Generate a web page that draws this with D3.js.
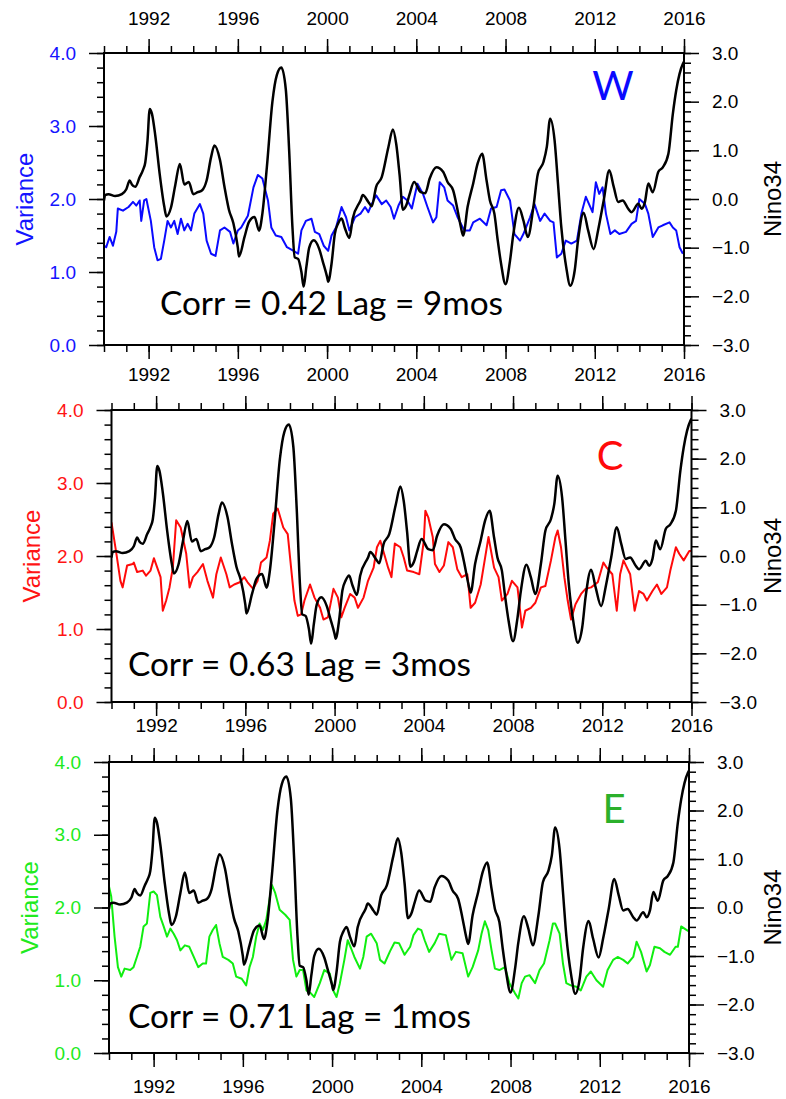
<!DOCTYPE html>
<html>
<head>
<meta charset="utf-8">
<script src="https://cdn.jsdelivr.net/npm/d3@7"></script>
<style>
  body { margin: 0; background: #fff; }
  svg { display: block; }
  .tick text { font-family: "Liberation Sans", Arial, Helvetica, sans-serif; font-size: 19px; }
  .tick line { stroke: #000; stroke-width: 1.5; }
</style>
</head>
<body>
<svg id="chart"></svg>
<script>
// Data: [decimal year, value]
const years = [1990, 2016];
const yearTicks = [1992, 1996, 2000, 2004, 2008, 2012, 2016];
const varianceTicks = [0, 1, 2, 3, 4];
const ninoTicks = [-3, -2, -1, 0, 1, 2, 3];

// Nino34 index (same black curve in all three panels)
const nino34 = [
  [1990.0,-0.03],[1990.05,0.08],[1990.2,0.1],[1990.5,0.06],[1990.8,0.1],[1991.0,0.2],[1991.15,0.38],
  [1991.25,0.3],[1991.4,0.25],[1991.6,0.45],[1991.75,0.6],[1991.85,0.75],[1991.95,1.2],[1992.05,1.85],
  [1992.15,1.75],[1992.3,1.3],[1992.5,0.5],[1992.7,-0.15],[1992.8,-0.36],[1993.0,-0.18],[1993.2,0.3],
  [1993.4,0.72],[1993.6,0.3],[1993.8,0.35],[1994.0,0.1],[1994.2,0.14],[1994.4,0.18],[1994.6,0.38],
  [1994.8,0.86],[1994.95,1.1],[1995.2,0.8],[1995.4,0.25],[1995.6,-0.22],[1995.8,-0.5],[1996.0,-1.0],
  [1996.05,-1.18],[1996.3,-0.78],[1996.5,-0.47],[1996.75,-0.37],[1996.95,-0.65],[1997.1,-0.3],
  [1997.3,0.65],[1997.55,2.0],[1997.75,2.55],[1997.95,2.7],[1998.15,2.25],[1998.3,1.0],[1998.45,-0.6],
  [1998.55,-1.2],[1998.7,-1.23],[1998.85,-1.5],[1998.95,-1.8],[1999.07,-1.4],[1999.2,-1.0],[1999.4,-0.85],
  [1999.65,-1.03],[1999.8,-1.27],[2000.0,-1.6],[2000.05,-1.7],[2000.2,-1.33],[2000.35,-0.71],[2000.5,-0.5],
  [2000.65,-0.4],[2000.8,-0.6],[2001.0,-0.8],[2001.15,-0.4],[2001.5,-0.03],[2001.6,0.08],[2001.85,-0.06],
  [2002.0,-0.15],[2002.2,0.25],[2002.45,0.45],[2002.75,1.07],[2002.95,1.43],[2003.1,1.13],[2003.25,0.5],
  [2003.4,-0.22],[2003.55,-0.13],[2003.7,0.1],[2003.9,0.35],[2004.2,0.14],[2004.4,0.12],[2004.6,0.42],
  [2004.9,0.65],[2005.2,0.56],[2005.4,0.35],[2005.65,0.18],[2005.85,-0.23],[2006.0,-0.58],[2006.1,-0.75],
  [2006.3,-0.16],[2006.55,0.32],[2006.75,0.73],[2006.95,0.93],[2007.15,0.38],[2007.3,-0.03],[2007.5,-0.3],
  [2007.65,-0.85],[2007.8,-1.33],[2008.0,-1.75],[2008.2,-1.27],[2008.35,-0.72],[2008.6,-0.18],[2008.8,-0.44],
  [2009.0,-0.78],[2009.25,-0.16],[2009.45,0.52],[2009.7,0.76],[2009.85,1.07],[2010.0,1.65],[2010.2,1.2],
  [2010.35,0.32],[2010.5,-0.58],[2010.72,-1.4],[2010.9,-1.78],[2011.1,-1.47],[2011.25,-0.85],[2011.5,-0.28],
  [2011.7,-0.64],[2011.95,-1.03],[2012.15,-0.64],[2012.4,-0.03],[2012.65,0.59],[2012.85,0.25],[2013.05,-0.06],
  [2013.25,-0.03],[2013.5,-0.2],[2013.65,-0.27],[2013.95,-0.1],[2014.1,-0.2],[2014.25,-0.06],[2014.4,0.32],
  [2014.6,0.14],[2014.85,0.56],[2015.05,0.65],[2015.3,0.93],[2015.5,1.75],[2015.65,2.23],[2015.8,2.57],
  [2015.95,2.78],[2016.0,2.82]
];

// Variance, western region
const varianceW = [
  [1990.0,1.36],[1990.1,1.34],[1990.25,1.48],[1990.4,1.36],[1990.55,1.55],[1990.62,1.87],[1990.85,1.84],
  [1991.1,1.89],[1991.3,1.96],[1991.45,1.91],[1991.6,1.98],[1991.67,1.7],[1991.8,1.98],[1991.9,2.0],
  [1992.1,1.7],[1992.25,1.34],[1992.4,1.16],[1992.55,1.18],[1992.7,1.43],[1992.85,1.7],[1993.0,1.61],
  [1993.15,1.7],[1993.3,1.52],[1993.45,1.73],[1993.6,1.57],[1993.75,1.66],[1993.9,1.57],[1994.05,1.8],
  [1994.3,1.93],[1994.45,1.8],[1994.6,1.43],[1994.8,1.25],[1995.0,1.22],[1995.2,1.57],[1995.4,1.61],
  [1995.65,1.55],[1995.8,1.39],[1996.0,1.57],[1996.15,1.61],[1996.45,1.77],[1996.7,2.16],[1996.9,2.33],
  [1997.1,2.28],[1997.35,1.98],[1997.5,1.61],[1997.7,1.5],[1997.95,1.48],[1998.2,1.34],[1998.5,1.29],
  [1998.7,1.25],[1998.85,1.57],[1999.05,1.7],[1999.3,1.73],[1999.45,1.55],[1999.65,1.52],[1999.85,1.36],
  [2000.05,1.29],[2000.2,1.5],[2000.4,1.61],[2000.65,1.89],[2000.85,1.75],[2001.0,1.57],[2001.25,1.75],
  [2001.5,1.8],[2001.7,1.89],[2001.85,1.82],[2002.0,1.93],[2002.2,2.05],[2002.45,1.93],[2002.65,1.98],
  [2002.85,1.89],[2003.0,1.73],[2003.2,1.91],[2003.4,2.03],[2003.6,1.98],[2003.8,1.87],[2004.05,2.21],
  [2004.3,2.07],[2004.5,1.89],[2004.75,1.68],[2004.9,1.75],[2005.05,2.23],[2005.25,2.16],[2005.4,1.98],
  [2005.65,1.91],[2005.85,1.75],[2006.15,1.57],[2006.4,1.57],[2006.55,1.68],[2006.85,1.73],[2007.15,1.64],
  [2007.35,1.87],[2007.6,1.89],[2007.8,2.12],[2007.95,2.13],[2008.2,1.98],[2008.4,1.52],[2008.65,1.43],
  [2008.8,1.52],[2009.1,1.75],[2009.3,1.93],[2009.55,1.7],[2009.75,1.8],[2010.0,1.7],[2010.15,1.68],
  [2010.3,1.2],[2010.5,1.25],[2010.7,1.43],[2010.95,1.39],[2011.2,1.43],[2011.4,1.8],[2011.6,2.03],
  [2011.9,1.82],[2012.05,2.23],[2012.2,2.07],[2012.35,2.16],[2012.5,1.8],[2012.7,1.52],[2012.9,1.57],
  [2013.1,1.52],[2013.4,1.55],[2013.65,1.66],[2013.85,1.7],[2014.0,2.0],[2014.25,1.93],[2014.4,1.8],
  [2014.6,1.48],[2014.85,1.61],[2015.05,1.64],[2015.35,1.68],[2015.5,1.61],[2015.65,1.57],[2015.8,1.34],
  [2015.95,1.25]
];

// Variance, central region
const varianceC = [
  [1990.0,2.46],[1990.2,2.07],[1990.4,1.66],[1990.5,1.57],[1990.7,1.87],[1990.95,1.89],[1991.0,1.91],
  [1991.15,1.78],[1991.4,1.8],[1991.55,1.73],[1991.75,1.8],[1991.9,1.97],[1992.05,1.84],[1992.2,1.71],
  [1992.3,1.25],[1992.45,1.39],[1992.6,1.57],[1992.75,1.84],[1992.9,2.49],[1993.1,2.39],[1993.35,2.03],
  [1993.5,1.57],[1993.65,1.71],[1993.85,1.78],[1994.1,1.89],[1994.3,1.66],[1994.55,1.43],[1994.7,1.75],
  [1994.9,1.98],[1995.15,1.75],[1995.3,1.57],[1995.5,1.61],[1995.75,1.64],[1995.95,1.71],[1996.1,1.64],
  [1996.35,1.55],[1996.55,1.66],[1996.7,1.91],[1996.95,1.98],[1997.1,2.21],[1997.25,2.58],[1997.45,2.65],
  [1997.7,2.39],[1997.9,2.3],[1998.05,1.84],[1998.2,1.39],[1998.35,1.18],[1998.5,1.2],[1998.65,1.39],
  [1998.9,1.61],[1999.1,1.43],[1999.35,1.29],[1999.5,1.13],[1999.7,1.16],[1999.95,1.55],[2000.15,1.43],
  [2000.3,1.16],[2000.45,1.29],[2000.7,1.48],[2000.9,1.43],[2001.05,1.29],[2001.3,1.43],[2001.5,1.66],
  [2001.75,1.84],[2001.9,2.12],[2002.05,2.21],[2002.25,2.0],[2002.4,1.84],[2002.55,1.71],[2002.7,2.17],
  [2002.95,2.12],[2003.1,1.98],[2003.25,1.8],[2003.55,1.78],[2003.8,1.75],[2004.0,2.21],[2004.07,2.62],
  [2004.2,2.53],[2004.4,2.26],[2004.5,1.89],[2004.7,1.78],[2004.9,1.87],[2005.1,2.19],[2005.3,2.12],
  [2005.5,1.82],[2005.7,1.71],[2005.95,1.75],[2006.1,1.29],[2006.3,1.36],[2006.55,1.61],[2006.75,1.98],
  [2006.9,2.26],[2007.15,1.84],[2007.35,1.71],[2007.5,1.39],[2007.75,1.48],[2007.95,1.66],[2008.2,1.57],
  [2008.4,1.02],[2008.55,1.25],[2008.8,1.29],[2009.0,1.36],[2009.25,1.57],[2009.45,1.59],[2009.7,1.94],
  [2009.9,2.26],[2010.0,2.35],[2010.15,2.12],[2010.3,1.71],[2010.45,1.39],[2010.6,1.13],[2010.8,1.34],
  [2011.05,1.48],[2011.25,1.55],[2011.5,1.57],[2011.8,1.64],[2012.05,1.91],[2012.2,1.84],[2012.45,1.75],
  [2012.65,1.25],[2012.8,1.75],[2012.95,1.94],[2013.25,1.75],[2013.45,1.25],[2013.65,1.52],[2013.85,1.48],
  [2014.0,1.39],[2014.25,1.52],[2014.45,1.61],[2014.65,1.48],[2014.9,1.57],[2015.05,1.8],[2015.3,2.12],
  [2015.45,2.03],[2015.65,1.94],[2015.9,2.07],[2016.0,2.07]
];

// Variance, eastern region
const varianceE = [
  [1990.0,2.29],[1990.1,2.15],[1990.25,1.6],[1990.4,1.18],[1990.55,1.05],[1990.7,1.16],[1990.95,1.14],
  [1991.1,1.18],[1991.25,1.32],[1991.4,1.46],[1991.55,1.74],[1991.7,1.78],[1991.85,2.2],[1992.0,2.22],
  [1992.15,2.17],[1992.3,1.87],[1992.45,1.74],[1992.6,1.6],[1992.75,1.71],[1992.9,1.64],[1993.05,1.55],
  [1993.2,1.41],[1993.4,1.48],[1993.6,1.46],[1993.8,1.32],[1994.0,1.18],[1994.2,1.23],[1994.35,1.23],
  [1994.5,1.6],[1994.65,1.69],[1994.8,1.76],[1994.95,1.51],[1995.1,1.32],[1995.35,1.28],[1995.55,1.23],
  [1995.7,1.05],[1995.95,1.02],[1996.15,0.93],[1996.3,1.18],[1996.45,1.32],[1996.6,1.6],[1996.75,1.78],
  [1996.9,1.69],[1997.05,1.83],[1997.3,2.31],[1997.45,2.2],[1997.65,1.97],[1997.9,1.9],[1998.1,1.83],
  [1998.25,1.28],[1998.4,1.05],[1998.55,1.14],[1998.7,1.14],[1998.85,0.86],[1999.05,0.82],[1999.2,0.77],
  [1999.45,0.96],[1999.65,1.14],[1999.9,1.09],[2000.05,0.86],[2000.2,0.77],[2000.35,0.96],[2000.55,1.28],
  [2000.7,1.55],[2000.85,1.44],[2001.0,1.32],[2001.25,1.16],[2001.4,1.32],[2001.55,1.6],[2001.75,1.64],
  [2002.0,1.51],[2002.15,1.28],[2002.35,1.23],[2002.6,1.4],[2002.8,1.52],[2003.0,1.51],[2003.25,1.35],
  [2003.5,1.46],[2003.65,1.62],[2003.85,1.71],[2004.0,1.69],[2004.15,1.55],[2004.35,1.39],[2004.6,1.51],
  [2004.8,1.64],[2005.1,1.62],[2005.35,1.28],[2005.55,1.39],[2005.85,1.37],[2006.1,1.05],[2006.3,1.18],
  [2006.55,1.41],[2006.7,1.64],[2006.85,1.81],[2007.0,1.69],[2007.15,1.41],[2007.3,1.16],[2007.5,1.14],
  [2007.75,1.18],[2007.95,0.96],[2008.2,0.82],[2008.35,0.75],[2008.5,0.96],[2008.65,1.05],[2008.85,1.07],
  [2009.1,0.96],[2009.3,1.14],[2009.5,1.23],[2009.75,1.55],[2009.9,1.78],[2010.0,1.78],[2010.2,1.64],
  [2010.35,1.23],[2010.5,0.96],[2010.7,0.93],[2010.95,0.91],[2011.15,0.86],[2011.4,1.05],[2011.6,1.12],
  [2011.85,1.0],[2012.15,0.91],[2012.35,1.14],[2012.6,1.28],[2012.8,1.32],[2013.05,1.28],[2013.25,1.23],
  [2013.5,1.32],[2013.65,1.53],[2013.85,1.39],[2014.1,1.12],[2014.25,1.21],[2014.45,1.46],[2014.7,1.44],
  [2014.9,1.39],[2015.15,1.35],[2015.4,1.46],[2015.5,1.46],[2015.65,1.74],[2015.9,1.69],[2016.0,1.67]
];

const regionNames = ["W", "C", "E"];
const corrValues = [0.42, 0.63, 0.71];
const lagMonths = [9, 3, 1];
const varianceSeries = [varianceW, varianceC, varianceE];

// layout of the three stacked panels (pixels)
const panelBoxes = [
  { left: 104, right: 684, top: 53, bottom: 345, topLabels: true, padBottom: 9,
    corrX: 160, corrY: 315, tagX: 613, tagY: 100 },
  { left: 111.5, right: 691.5, top: 410, bottom: 702, topLabels: false, padBottom: 3,
    corrX: 128, corrY: 676, tagX: 610, tagY: 470 },
  { left: 109, right: 689, top: 762, bottom: 1053, topLabels: false, padBottom: 13,
    corrX: 128, corrY: 1028, tagX: 614, tagY: 823 }
];
const lineColors = ["#0a0aff", "#ff0a0a", "#10ee10"];
const labelColors = ["#1414ff", "#ff1414", "#20ea20"];
const tagColors = ["#0a0aff", "#ff0a0a", "#2bb02b"];

const width = 786, height = 1099;
const svg = d3.select("#chart").attr("width", width).attr("height", height);
svg.append("rect").attr("width", width).attr("height", height).attr("fill", "#fff");

const fmt = d3.format(".1f");
const minorYears = d3.range(1990, 2017, 1);
const minorVar = d3.range(0, 4.01, 0.2);
const minorNino = d3.range(-3, 3.01, 0.2);

panelBoxes.forEach((box, i) => {
    const g = svg.append("g");

    const x = d3.scaleLinear().domain(years).range([box.left, box.right]);
    const yL = d3.scaleLinear().domain([0, 4]).range([box.bottom, box.top]);
    const yR = d3.scaleLinear().domain([-3, 3]).range([box.bottom, box.top]);

    // minor ticks first
    const minor = (axis, scale, vals, tx, ty) => {
        g.append("g").attr("transform", `translate(${tx},${ty})`)
            .call(axis(scale).tickValues(vals).tickSize(7).tickSizeOuter(0).tickFormat(""))
            .call(s => s.select(".domain").remove());
    };
    minor(d3.axisBottom, x, minorYears, 0, box.bottom);
    minor(d3.axisTop, x, minorYears, 0, box.top);
    minor(d3.axisLeft, yL, minorVar, box.left, 0);
    minor(d3.axisRight, yR, minorNino, box.right, 0);

    // major ticks + labels
    const bottomAx = g.append("g").attr("transform", `translate(0,${box.bottom})`)
        .call(d3.axisBottom(x).tickValues(yearTicks).tickSize(14).tickSizeOuter(0)
            .tickPadding(box.padBottom).tickFormat(d3.format("d")));
    bottomAx.select(".domain").remove();
    bottomAx.selectAll("text").attr("fill", "#000");

    const topAx = g.append("g").attr("transform", `translate(0,${box.top})`)
        .call(d3.axisTop(x).tickValues(yearTicks).tickSize(14).tickSizeOuter(0)
            .tickPadding(14).tickFormat(d3.format("d")));
    topAx.select(".domain").remove();
    topAx.selectAll("text").attr("fill", "#000");
    if (!box.topLabels) topAx.selectAll("text").remove();

    const leftAx = g.append("g").attr("transform", `translate(${box.left},0)`)
        .call(d3.axisLeft(yL).tickValues(varianceTicks).tickSize(15).tickSizeOuter(0)
            .tickPadding(13).tickFormat(fmt));
    leftAx.select(".domain").remove();
    leftAx.selectAll("text").attr("fill", labelColors[i]);

    const rightAx = g.append("g").attr("transform", `translate(${box.right},0)`)
        .call(d3.axisRight(yR).tickValues(ninoTicks).tickSize(15).tickSizeOuter(0)
            .tickPadding(13).tickFormat(fmt));
    rightAx.select(".domain").remove();
    rightAx.selectAll("text").attr("fill", "#000");

    // clip for the curves
    const clipId = "clip" + i;
    svg.append("clipPath").attr("id", clipId).append("rect")
        .attr("x", box.left).attr("y", box.top)
        .attr("width", box.right - box.left).attr("height", box.bottom - box.top);

    const plot = g.append("g").attr("clip-path", `url(#${clipId})`);

    const varLine = d3.line().x(d => x(d[0])).y(d => yL(d[1]));
    plot.append("path")
        .datum(varianceSeries[i])
        .attr("d", varLine)
        .attr("fill", "none")
        .attr("stroke", lineColors[i])
        .attr("stroke-width", 2)
        .attr("stroke-linejoin", "round");

    const ninoLine = d3.line().x(d => x(d[0])).y(d => yR(d[1])).curve(d3.curveMonotoneX);
    plot.append("path")
        .datum(nino34)
        .attr("d", ninoLine)
        .attr("fill", "none")
        .attr("stroke", "#000")
        .attr("stroke-width", 2.5)
        .attr("stroke-linejoin", "round");

    // frame
    g.append("rect")
        .attr("x", box.left).attr("y", box.top)
        .attr("width", box.right - box.left).attr("height", box.bottom - box.top)
        .attr("fill", "none").attr("stroke", "#000").attr("stroke-width", 2);

    // axis titles
    const midY = (box.top + box.bottom) / 2;
    g.append("text")
        .attr("transform", `translate(${box.left - 80},${midY}) rotate(-90)`)
        .attr("text-anchor", "middle")
        .attr("dy", "0.36em")
        .attr("fill", labelColors[i])
        .style("font-family", "'Liberation Sans', Arial, sans-serif")
        .style("font-size", "24px")
        .text("Variance");

    // keep the right title inside the page
    const ninoX = Math.min(box.right + 89, 772);
    g.append("text")
        .attr("transform", `translate(${ninoX},${midY}) rotate(-90)`)
        .attr("text-anchor", "middle")
        .attr("dy", "0.36em")
        .attr("fill", "#000")
        .style("font-family", "'Liberation Sans', Arial, sans-serif")
        .style("font-size", "24px")
        .text("Nino34");

    // correlation note and region tag
    g.append("text")
        .attr("x", box.corrX).attr("y", box.corrY)
        .attr("textLength", 343).attr("lengthAdjust", "spacingAndGlyphs")
        .attr("fill", "#000")
        .style("font-family", "Lato, 'Open Sans', sans-serif")
        .style("font-size", "32px")
        .text(`Corr = ${corrValues[i].toFixed(2)} Lag = ${lagMonths[i]}mos`);

    g.append("text")
        .attr("x", box.tagX).attr("y", box.tagY)
        .attr("text-anchor", "middle")
        .attr("fill", tagColors[i])
        .style("font-family", "Lato, 'Open Sans', sans-serif")
        .style("font-size", "40px")
        .text(regionNames[i]);
});
</script>
</body>
</html>
